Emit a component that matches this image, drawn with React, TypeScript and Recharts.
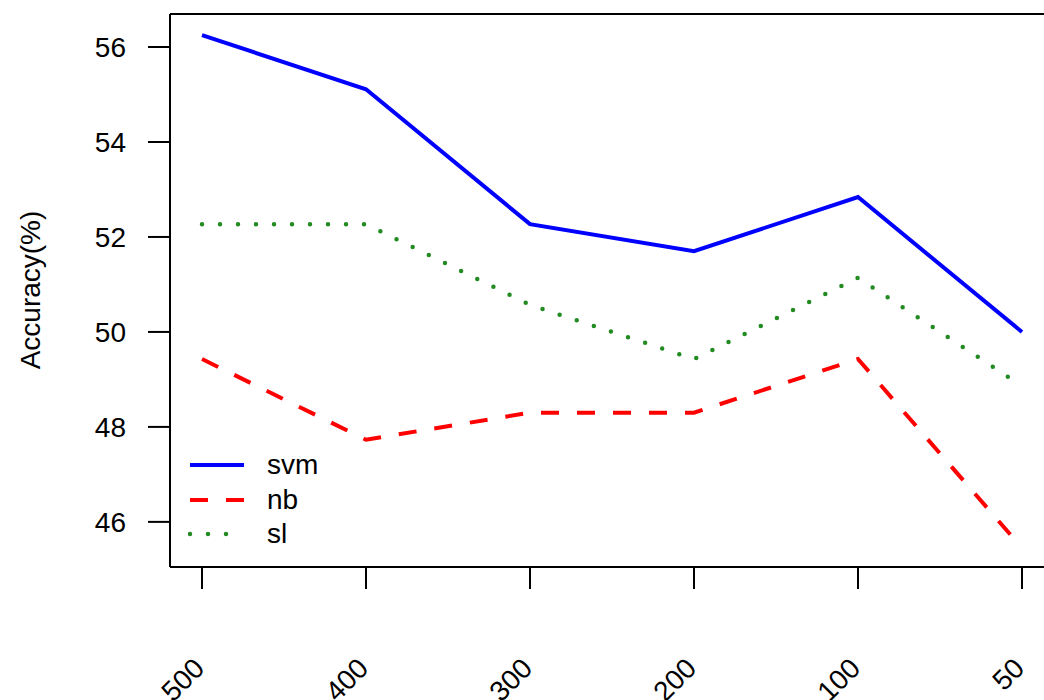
import { LineChart, Line, XAxis, YAxis, Legend, ReferenceLine } from "recharts";

const sizes = ["500", "400", "300", "200", "100", "50"];
const svm = [56.25, 55.11, 52.27, 51.7, 52.84, 50.0];
const nb = [49.43, 47.73, 48.3, 48.3, 49.43, 45.45];
const sl = [52.27, 52.27, 50.57, 49.43, 51.14, 48.86];
const yTicks = [46, 48, 50, 52, 54, 56];
const yMin = 45.05;
const yMax = 56.695;

const data = sizes.map((s, i) => ({ size: s, svm: svm[i], nb: nb[i], sl: sl[i] }));

const series = [
  { key: "svm", color: "#0000FF", dash: undefined, cap: "butt", w: 4 },
  { key: "nb", color: "#FF0000", dash: "18 18", cap: "butt", w: 4 },
  { key: "sl", color: "#228B22", dash: "0 18", cap: "round", w: 4.5 },
];

const font = "'Liberation Sans', Arial, Helvetica, sans-serif";

function XTick(props: any) {
  const { x, payload } = props;
  const ax = x + 4;
  const ay = 670;
  return (
    <text
      x={ax}
      y={ay}
      transform={`rotate(-45 ${ax} ${ay})`}
      textAnchor="end"
      fontSize={28}
      fill="#000"
    >
      {payload.value}
    </text>
  );
}

function LegendBox() {
  return (
    <div style={{ fontFamily: font, fontSize: 28, color: "#000" }}>
      {series.map((s) => (
        <div key={s.key} style={{ display: "flex", alignItems: "center", height: 34.5 }}>
          <svg width={60} height={20}>
            <line
              x1={2}
              y1={10}
              x2={56}
              y2={10}
              stroke={s.color}
              strokeWidth={s.w}
              strokeDasharray={s.dash}
              strokeLinecap={s.cap as any}
            />
          </svg>
          <span style={{ marginLeft: 19 }}>{s.key}</span>
        </div>
      ))}
    </div>
  );
}

export default function App() {
  return (
    <div
      style={{
        position: "absolute",
        left: 0,
        top: 0,
        width: 1044,
        height: 700,
        overflow: "hidden",
        background: "#fff",
        fontFamily: font,
      }}
    >
      <LineChart
        width={1060}
        height={700}
        data={data}
        margin={{ top: 14, right: 6, left: 0, bottom: 0 }}
      >
        <XAxis
          dataKey="size"
          height={133}
          padding={{ left: 32, right: 32 }}
          interval={0}
          tick={<XTick />}
          tickSize={22}
          axisLine={{ stroke: "#000", strokeWidth: 2 }}
          tickLine={{ stroke: "#000", strokeWidth: 2 }}
        />
        <YAxis
          width={170}
          domain={[yMin, yMax]}
          ticks={yTicks}
          allowDataOverflow
          tickSize={22}
          tickMargin={22}
          tick={{ fill: "#000", fontSize: 28 }}
          axisLine={{ stroke: "#000", strokeWidth: 2 }}
          tickLine={{ stroke: "#000", strokeWidth: 2 }}
          label={{
            content: () => (
              <text
                x={30}
                y={290}
                transform="rotate(-90 30 290)"
                textAnchor="middle"
                dominantBaseline="central"
                fontSize={28}
                fill="#000"
              >
                Accuracy(%)
              </text>
            ),
          }}
        />
        <ReferenceLine y={yMax} stroke="#000" strokeWidth={2} ifOverflow="visible" />
        {series.map((s) => (
          <Line
            key={s.key}
            dataKey={s.key}
            type="linear"
            stroke={s.color}
            strokeWidth={s.w}
            strokeDasharray={s.dash}
            strokeLinecap={s.cap as any}
            dot={false}
            activeDot={false}
            isAnimationActive={false}
          />
        ))}
        <Legend
          layout="vertical"
          align="center"
          verticalAlign="middle"
          content={<LegendBox />}
          wrapperStyle={{ position: "absolute", left: 188, top: 448, width: 200 }}
        />
      </LineChart>
    </div>
  );
}
